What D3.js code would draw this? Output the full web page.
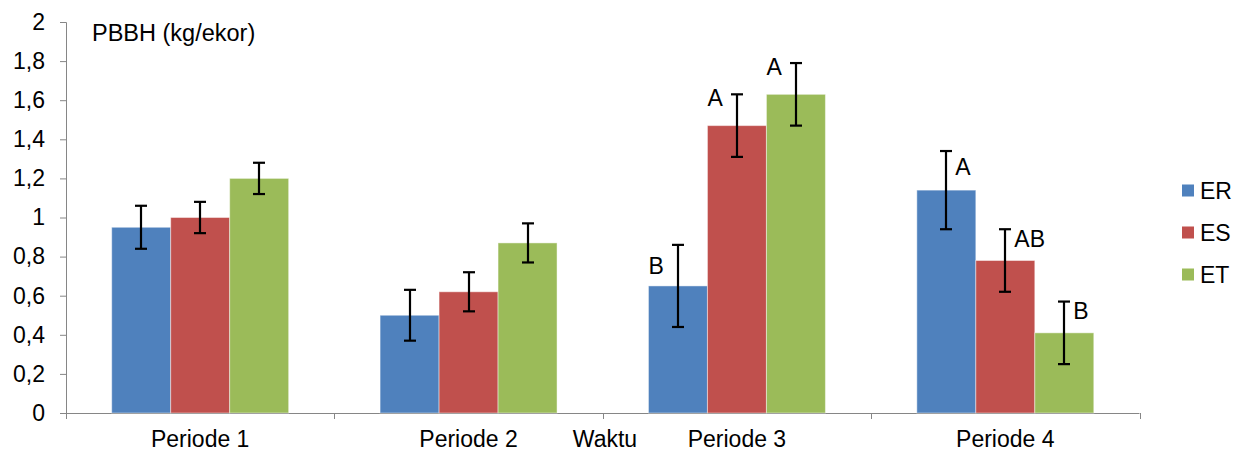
<!DOCTYPE html>
<html><head><meta charset="utf-8">
<script src="https://cdn.jsdelivr.net/npm/d3@7"></script>
<style>body{margin:0;background:#fff}svg{display:block;font-family:"Liberation Sans",Arial,sans-serif}</style>
</head><body><svg id="c" width="1234" height="452"></svg>
<script>
const categories = ["Periode 1","Periode 2","Periode 3","Periode 4"];
const seriesNames = ["ER","ES","ET"];
const colors = ["#4F81BD","#C0504D","#9BBB59"];
const ER = [0.95,0.50,0.65,1.14];
const ES = [1.00,0.62,1.47,0.78];
const ET = [1.20,0.87,1.63,0.41];
const ER_err = [0.11,0.13,0.21,0.20];
const ES_err = [0.08,0.10,0.16,0.16];
const ET_err = [0.08,0.10,0.16,0.16];
// significance letters: [category, series, text, value at label centre, side]
const letters = [
  [2,0,"B",0.75,-1],[2,1,"A",1.61,-1],[2,2,"A",1.77,-1],
  [3,0,"A",1.26,1],[3,1,"AB",0.89,1],[3,2,"B",0.52,1]
];
const yTicks = [0,0.2,0.4,0.6,0.8,1,1.2,1.4,1.6,1.8,2];
const yTitle = "PBBH (kg/ekor)";
const xTitle = "Waktu";

const values = [ER,ES,ET], errs = [ER_err,ES_err,ET_err];
const svg = d3.select("#c");
const FS = 23;
const x0 = 66, x1 = 1139.5, yb = 413, yt = 22;
const x = d3.scaleBand().domain(categories).range([x0,x1]).paddingInner(0).paddingOuter(0);
const xs = d3.scaleBand().domain(seriesNames).range([0,x.bandwidth()]).paddingInner(0).paddingOuter(0.775);
const y = d3.scaleLinear().domain([0,2]).range([yb,yt]);
const fmt = d3.format(".1f");
const lab = v => v===0?"0":(Number.isInteger(v)?String(v):fmt(v).replace(".",","));

// axes
const gy = svg.append("g").attr("transform",`translate(${x0},0)`)
  .call(d3.axisLeft(y).tickValues(yTicks).tickSize(6).tickPadding(15).tickFormat(lab));
gy.select(".domain").attr("stroke","#868686").attr("d",`M-6,${yt+0.5}H0.5V${yb}`);
gy.selectAll(".tick line").attr("stroke","#868686");
gy.selectAll(".tick text").attr("font-size",FS).attr("fill","#000").attr("font-family","Liberation Sans, Arial, sans-serif");

const bounds = categories.map(c=>x(c)).concat([x1]);
const gx = svg.append("g");
gx.append("line").attr("x1",x0).attr("x2",x1).attr("y1",yb+0.5).attr("y2",yb+0.5).attr("stroke","#868686");
gx.selectAll("line.t").data(bounds).join("line").attr("class","t")
  .attr("x1",d=>Math.round(d)+0.5).attr("x2",d=>Math.round(d)+0.5).attr("y1",yb).attr("y2",yb+6).attr("stroke","#868686");
gx.selectAll("text").data(categories).join("text")
  .attr("x",d=>x(d)+x.bandwidth()/2).attr("y",447).attr("text-anchor","middle")
  .attr("font-size",FS).text(d=>d);

// bars
categories.forEach((c,i)=>{
  seriesNames.forEach((s,j)=>{
    const v = values[j][i];
    svg.append("rect").attr("x",x(c)+xs(s)).attr("width",xs.bandwidth())
      .attr("y",y(v)).attr("height",yb-y(v)).attr("fill",colors[j])
      .attr("stroke","rgba(255,255,255,0.45)").attr("stroke-width",1);
  });
});
// error bars
categories.forEach((c,i)=>{
  seriesNames.forEach((s,j)=>{
    const v = values[j][i], e = errs[j][i];
    const cx = Math.round(x(c)+xs(s)+xs.bandwidth()/2);
    const g = svg.append("g").attr("stroke","#000").attr("stroke-width",2.2);
    g.append("line").attr("x1",cx).attr("x2",cx).attr("y1",y(v+e)).attr("y2",y(v-e));
    g.append("line").attr("x1",cx-6).attr("x2",cx+6).attr("y1",y(v+e)).attr("y2",y(v+e));
    g.append("line").attr("x1",cx-6).attr("x2",cx+6).attr("y1",y(v-e)).attr("y2",y(v-e));
  });
});
// letters
letters.forEach(([ci,sj,t,v,side])=>{
  const cx = x(categories[ci])+xs(seriesNames[sj])+xs.bandwidth()/2;
  svg.append("text").attr("x",cx+(side<0?-14:9)).attr("y",y(v)+8)
    .attr("text-anchor",side<0?"end":"start").attr("font-size",FS).text(t);
});

// titles
svg.append("text").attr("x",92).attr("y",41).attr("font-size",23.5).text(yTitle);
svg.append("text").attr("x",605).attr("y",447).attr("text-anchor","middle").attr("font-size",FS).text(xTitle);

// legend
seriesNames.forEach((s,j)=>{
  const ly = 190.5 + j*42;
  svg.append("rect").attr("x",1182).attr("y",ly-6).attr("width",12).attr("height",12).attr("fill",colors[j]);
  svg.append("text").attr("x",1200).attr("y",ly+8).attr("font-size",FS).text(s);
});
</script></body></html>
